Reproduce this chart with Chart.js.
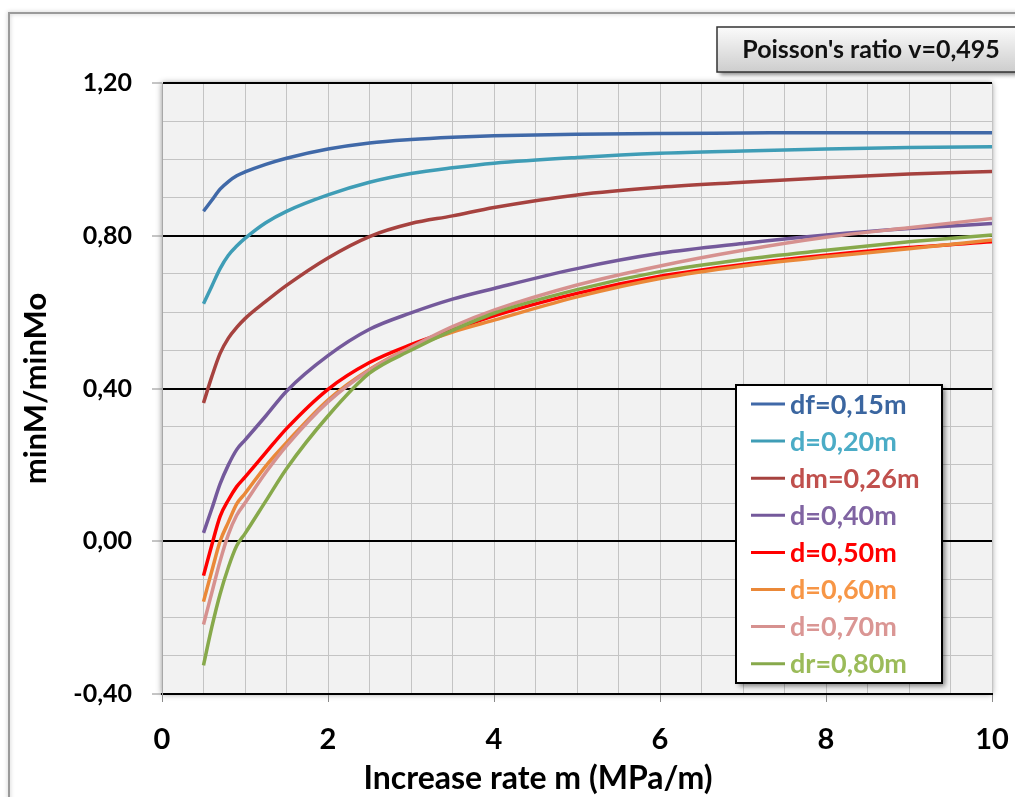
<!DOCTYPE html>
<html>
<head>
<meta charset="utf-8">
<title>minM/minMo - Poisson's ratio v=0,495</title>
<script src="https://cdn.jsdelivr.net/npm/chart.js@4.4.0/dist/chart.umd.min.js"></script>
<style>
  html, body { margin: 0; padding: 0; background: #fff; }
  #wrap { width: 1015px; height: 797px; overflow: hidden; }
</style>
</head>
<body>
<div id="wrap"><canvas id="chart" width="1015" height="797"></canvas></div>
<script>
// increase rate m (MPa/m)
const increaseRate = [0.5, 0.6, 0.7, 0.8, 0.9, 1, 1.25, 1.5, 2, 2.5, 3, 3.5, 4, 5, 6, 7, 8, 9, 10];

// minM/minMo
const df015 = [0.864, 0.893, 0.922, 0.942, 0.957, 0.967, 0.987, 1.003, 1.027, 1.043, 1.052, 1.058, 1.062, 1.066, 1.068, 1.069, 1.070, 1.070, 1.070];
const d020  = [0.622, 0.668, 0.714, 0.749, 0.773, 0.793, 0.834, 0.864, 0.907, 0.940, 0.963, 0.978, 0.990, 1.005, 1.016, 1.022, 1.027, 1.031, 1.033];
const dm026 = [0.362, 0.431, 0.492, 0.532, 0.560, 0.583, 0.628, 0.670, 0.742, 0.798, 0.832, 0.852, 0.874, 0.907, 0.927, 0.940, 0.952, 0.962, 0.968];
const d040  = [0.022, 0.085, 0.150, 0.200, 0.240, 0.265, 0.328, 0.393, 0.486, 0.555, 0.598, 0.634, 0.662, 0.714, 0.754, 0.780, 0.802, 0.819, 0.832];
const d050  = [-0.090, -0.010, 0.065, 0.108, 0.143, 0.168, 0.232, 0.295, 0.398, 0.468, 0.515, 0.553, 0.590, 0.649, 0.694, 0.725, 0.749, 0.769, 0.784];
const d060  = [-0.158, -0.078, 0.000, 0.050, 0.098, 0.125, 0.197, 0.258, 0.370, 0.450, 0.508, 0.548, 0.579, 0.640, 0.688, 0.721, 0.745, 0.766, 0.789];
const d070  = [-0.218, -0.135, -0.052, 0.018, 0.068, 0.100, 0.180, 0.250, 0.365, 0.448, 0.508, 0.562, 0.605, 0.671, 0.721, 0.762, 0.796, 0.821, 0.845];
const dr080 = [-0.325, -0.225, -0.138, -0.068, -0.012, 0.020, 0.105, 0.190, 0.328, 0.440, 0.500, 0.552, 0.597, 0.659, 0.706, 0.738, 0.762, 0.784, 0.802];

const seriesLabels = ['df=0,15m', 'd=0,20m', 'dm=0,26m', 'd=0,40m', 'd=0,50m', 'd=0,60m', 'd=0,70m', 'dr=0,80m'];
const seriesValues = [df015, d020, dm026, d040, d050, d060, d070, dr080];
const lineColors = ['#4069a8', '#3f9db6', '#a6423f', '#74599b', '#ff0000', '#ea8838', '#d6918f', '#87a94b'];
const textColors = ['#3b66a0', '#4bacc6', '#c0504d', '#8064a2', '#ff0000', '#f79646', '#da9694', '#9bbb59'];

const xTickValues = [0, 2, 4, 6, 8, 10];
const xTickLabels = ['0', '2', '4', '6', '8', '10'];
const yTickValues = [-0.4, 0, 0.4, 0.8, 1.2];
const yTickLabels = ['-0,40', '0,00', '0,40', '0,80', '1,20'];

const chartTitle = "Poisson's ratio v=0,495";
const xTitle = 'Increase rate m (MPa/m)';
const yTitle = 'minM/minMo';

const FONT = 'Lato, "Open Sans", sans-serif';

const findTick = (values, v) => values.findIndex(t => Math.abs(t - v) < 1e-6);
const isMajorY = v => findTick(yTickValues, v) >= 0;
const isMajorX = v => findTick(xTickValues, v) >= 0;

const datasets = seriesValues.map((vals, i) => ({
    label: seriesLabels[i],
    data: increaseRate.map((x, j) => ({ x: x, y: vals[j] })),
    borderColor: lineColors[i],
    backgroundColor: lineColors[i],
    borderWidth: 3.5,
    pointRadius: 0,
    cubicInterpolationMode: 'monotone',
    order: seriesValues.length - i
}));

// plot background, outer frame
const backdrop = {
    id: 'backdrop',
    beforeDraw(chart) {
        const ctx = chart.ctx;
        const a = chart.chartArea;
        ctx.save();
        ctx.fillStyle = '#fff';
        ctx.fillRect(0, 0, chart.width, chart.height);
        ctx.shadowColor = 'rgba(0,0,0,0.25)';
        ctx.shadowBlur = 4;
        ctx.strokeStyle = '#9a9a9a';
        ctx.lineWidth = 2;
        ctx.strokeRect(9, 13, chart.width + 20, chart.height + 20);
        ctx.shadowColor = 'rgba(0,0,0,0.45)';
        ctx.shadowBlur = 6;
        ctx.fillStyle = '#f2f2f2';
        ctx.fillRect(a.left, a.top, a.right - a.left, a.bottom - a.top);
        ctx.restore();
    }
};

// legend, title box, x axis title
const overlay = {
    id: 'overlay',
    afterDraw(chart) {
        const ctx = chart.ctx;
        ctx.save();

        // title box
        ctx.save();
        ctx.shadowColor = 'rgba(0,0,0,0.45)';
        ctx.shadowBlur = 4;
        ctx.shadowOffsetX = 3;
        ctx.shadowOffsetY = 3;
        const g = ctx.createLinearGradient(0, 27, 0, 72);
        g.addColorStop(0, '#fbfbfb');
        g.addColorStop(1, '#cdcdcd');
        ctx.fillStyle = g;
        ctx.fillRect(717, 27, 320, 45);
        ctx.restore();
        ctx.strokeStyle = '#333';
        ctx.lineWidth = 1.5;
        ctx.strokeRect(717, 27, 320, 45);
        ctx.fillStyle = '#111';
        ctx.font = 'bold 25px ' + FONT;
        ctx.textAlign = 'center';
        ctx.textBaseline = 'middle';
        ctx.fillText(chartTitle, 871, 50);

        // legend
        const lx = 736, ly = 385, lw = 206, lh = 298;
        ctx.save();
        ctx.shadowColor = 'rgba(0,0,0,0.5)';
        ctx.shadowBlur = 5;
        ctx.shadowOffsetX = 3;
        ctx.shadowOffsetY = 3;
        ctx.fillStyle = '#fff';
        ctx.fillRect(lx, ly, lw, lh);
        ctx.restore();
        ctx.strokeStyle = '#000';
        ctx.lineWidth = 2;
        ctx.strokeRect(lx, ly, lw, lh);
        ctx.font = 'bold 27px ' + FONT;
        ctx.textAlign = 'left';
        seriesLabels.forEach((label, i) => {
            const y = 404 + i * 37.1;
            ctx.strokeStyle = lineColors[i];
            ctx.lineWidth = 3;
            ctx.beginPath();
            ctx.moveTo(751, y);
            ctx.lineTo(785, y);
            ctx.stroke();
            ctx.fillStyle = textColors[i];
            ctx.fillText(label, 790, y + 1);
        });

        // x axis title
        ctx.fillStyle = '#000';
        ctx.font = 'bold 32px ' + FONT;
        ctx.textAlign = 'center';
        ctx.fillText(xTitle, 538, 779);
        ctx.restore();
    }
};

const ctx = document.getElementById('chart').getContext('2d');

new Chart(ctx, {
    type: 'line',
    data: { datasets: datasets },
    options: {
        responsive: false,
        devicePixelRatio: 1,
        animation: false,
        layout: { padding: { top: 83, right: 23, left: 0, bottom: 0 } },
        plugins: {
            legend: { display: false },
            tooltip: { enabled: false }
        },
        scales: {
            x: {
                type: 'linear',
                min: 0,
                max: 10,
                afterFit: scale => {
                    scale.height = 103;
                    // tick padding is meant vertically only
                    scale.paddingLeft = 10;
                    scale.paddingRight = 18;
                },
                ticks: {
                    stepSize: 0.5,
                    autoSkip: false,
                    maxRotation: 0,
                    padding: 20,
                    color: '#000',
                    font: { family: FONT, size: 29, weight: 'bold' },
                    callback: v => {
                        const i = findTick(xTickValues, v);
                        return i >= 0 ? xTickLabels[i] : '';
                    }
                },
                grid: {
                    color: '#c4c4c4',
                    lineWidth: 1,
                    tickLength: 8,
                    tickWidth: 1,
                    tickColor: c => isMajorX(c.tick.value) ? '#8a8a8a' : 'rgba(0,0,0,0)'
                },
                border: { color: '#000', width: 2 }
            },
            y: {
                type: 'linear',
                min: -0.4,
                max: 1.2,
                afterFit: scale => { scale.width = 162; },
                ticks: {
                    stepSize: 0.1,
                    autoSkip: false,
                    padding: 20,
                    color: '#000',
                    font: { family: FONT, size: 25, weight: 'bold' },
                    callback: v => {
                        const i = findTick(yTickValues, v);
                        return i >= 0 ? yTickLabels[i] : '';
                    }
                },
                grid: {
                    color: c => isMajorY(c.tick.value) ? '#000' : '#c4c4c4',
                    lineWidth: c => isMajorY(c.tick.value) ? 2 : 1,
                    tickLength: 10,
                    tickWidth: 1,
                    tickColor: c => isMajorY(c.tick.value) ? '#8a8a8a' : 'rgba(0,0,0,0)'
                },
                border: { color: '#a8a8a8', width: 1 },
                title: {
                    display: true,
                    text: yTitle,
                    color: '#000',
                    font: { family: FONT, size: 31, weight: 'bold' },
                    padding: { top: 17, bottom: 0 }
                }
            }
        }
    },
    plugins: [backdrop, overlay]
});
</script>
</body>
</html>
